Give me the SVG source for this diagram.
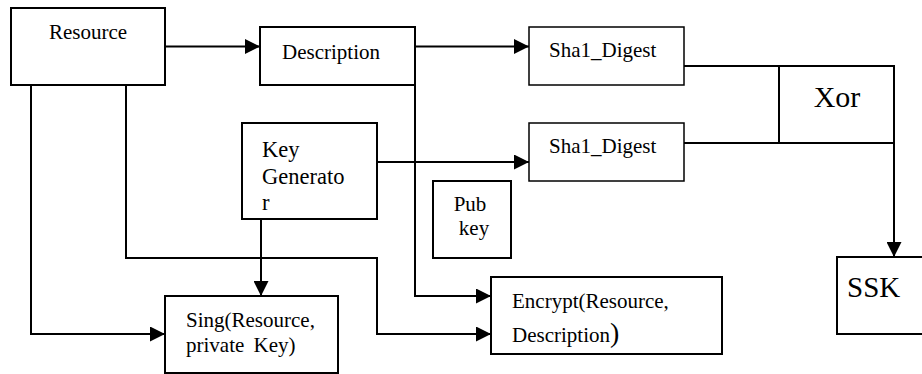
<svg xmlns="http://www.w3.org/2000/svg" width="922" height="374" viewBox="0 0 922 374">
<defs>
<marker id="ah" markerWidth="15" markerHeight="15" refX="15" refY="7.5" orient="auto" markerUnits="userSpaceOnUse">
<path d="M0,0 L15,7.5 L0,15 Z" fill="#000"/>
</marker>
</defs>
<style>
.box{fill:#fff;stroke:#000;stroke-width:2}
.thin{fill:#fff;stroke:#000;stroke-width:1.5}
text{font-family:'Liberation Serif', Tinos, 'Times New Roman', serif;fill:#000}
.t{font-size:21px}
.big{font-size:30px}
.ln{fill:none;stroke:#000;stroke-width:2}
.arr{fill:none;stroke:#000;stroke-width:2;marker-end:url(#ah)}
</style>
<rect width="922" height="374" fill="#fff"/>
<g id="connectors">
<path class="arr" d="M165,46.5 H260"/>
<path class="arr" d="M415,46.5 H529"/>
<path class="arr" d="M377,162 H529"/>
<path class="ln" d="M684,66 H779"/>
<path class="ln" d="M684,143 H894"/>
<path class="arr" d="M894,143 V257"/>
<path class="arr" d="M415,85 V296 H491"/>
<path class="arr" d="M126,85 V258 H377 V334 H491"/>
<path class="arr" d="M261,219 V296"/>
<path class="arr" d="M31,85 V334 H165"/>
</g>
<g id="resource">
<rect class="box" x="11" y="8" width="154" height="77"/>
<text class="t" x="49" y="39" font-family="Liberation Serif, serif">Resource</text>
</g>
<g id="description">
<rect class="box" x="260" y="27" width="155" height="58"/>
<text class="t" x="282" y="59">Description</text>
</g>
<g id="sha1a">
<rect class="thin" x="529" y="27" width="155" height="58"/>
<text class="t" x="549" y="56.5">Sha1_Digest</text>
</g>
<g id="sha1b">
<rect class="thin" x="529" y="123" width="155" height="58"/>
<text class="t" x="549" y="152.5">Sha1_Digest</text>
</g>
<g id="xor">
<rect class="box" x="779" y="66" width="115" height="77"/>
<text class="big" x="837" y="107" text-anchor="middle">Xor</text>
</g>
<g id="keygen">
<rect class="box" x="242" y="123" width="135" height="96"/>
<text class="t" x="262" y="157" style="font-size:22.5px">Key</text>
<text class="t" x="262" y="184" style="font-size:22.5px">Generato</text>
<text class="t" x="262" y="210" style="font-size:22.5px">r</text>
</g>
<g id="pubkey">
<rect class="box" x="433" y="181" width="78" height="77"/>
<text class="t" x="470" y="211" text-anchor="middle">Pub</text>
<text class="t" x="474" y="235" text-anchor="middle">key</text>
</g>
<g id="sing">
<rect class="box" x="165" y="296" width="173" height="77"/>
<text class="t" x="186" y="326.5">Sing(Resource,</text>
<text class="t" x="186" y="352" word-spacing="4">private Key)</text>
</g>
<g id="encrypt">
<rect class="box" x="491" y="277" width="231" height="77"/>
<text class="t" x="512" y="307.5">Encrypt(Resource,</text>
<text class="t" x="512" y="341.5">Description<tspan style="font-size:28px">)</tspan></text>
</g>
<g id="ssk">
<rect class="box" x="837" y="257" width="95" height="77"/>
<text class="big" x="847" y="296.5" style="font-size:29px">SSK</text>
</g>
</svg>
